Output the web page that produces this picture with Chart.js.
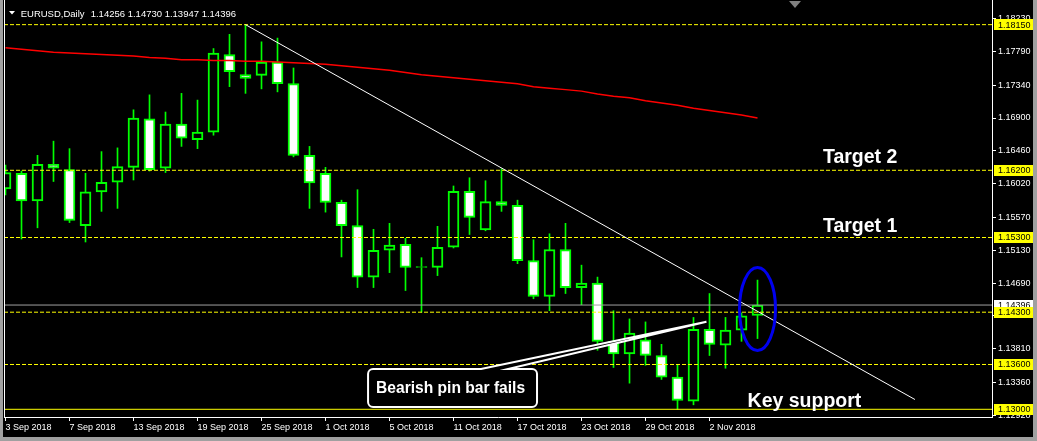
<!DOCTYPE html>
<html>
<head>
<meta charset="UTF-8">
<title>EURUSD Daily</title>
<script src="https://cdn.jsdelivr.net/npm/chart.js"></script>
<style>
    html, body { margin: 0; padding: 0; background: #000; overflow: hidden; }
    #chart { display: block; }
</style>
</head>
<body>
<canvas id="chart" width="1037" height="441"></canvas>
<script>
    // one bar per trading day, index 0 = 3 Sep 2018
    const opens  = [1.1595, 1.1616, 1.1579, 1.1628, 1.1621, 1.1546, 1.1591, 1.1604, 1.1624, 1.1689,
                    1.1623, 1.1682, 1.1661, 1.1671, 1.1775, 1.1748, 1.1747, 1.1765, 1.1736, 1.1640,
                    1.1616, 1.1577, 1.1546, 1.1477, 1.1513, 1.1521, 1.1490, 1.1490, 1.1517, 1.1592,
                    1.1540, 1.1578, 1.1573, 1.1499, 1.1451, 1.1514, 1.1463, 1.1469, 1.1391, 1.1374,
                    1.1393, 1.1372, 1.1343, 1.1311, 1.1407, 1.1386, 1.1406, 1.14256];
    const highs  = [1.1627, 1.1619, 1.1640, 1.1659, 1.1649, 1.1616, 1.1645, 1.1650, 1.1701, 1.1721,
                    1.1698, 1.1723, 1.1714, 1.1783, 1.1802, 1.1815, 1.1792, 1.1797, 1.1757, 1.1652,
                    1.1624, 1.1580, 1.1594, 1.1541, 1.1549, 1.1529, 1.1503, 1.1545, 1.1599, 1.1610,
                    1.1606, 1.1622, 1.1580, 1.1527, 1.1535, 1.1549, 1.1493, 1.1477, 1.1432, 1.1421,
                    1.1417, 1.1387, 1.1359, 1.1423, 1.1455, 1.1423, 1.1429, 1.14730];
    const lows   = [1.1587, 1.1528, 1.1543, 1.1605, 1.1550, 1.1524, 1.1565, 1.1569, 1.1607, 1.1619,
                    1.1617, 1.1652, 1.1649, 1.1667, 1.1732, 1.1723, 1.1729, 1.1725, 1.1638, 1.1569,
                    1.1564, 1.1504, 1.1463, 1.1463, 1.1483, 1.1459, 1.1430, 1.1479, 1.1516, 1.1534,
                    1.1539, 1.1565, 1.1495, 1.1448, 1.1432, 1.1455, 1.1440, 1.1379, 1.1356, 1.1335,
                    1.1359, 1.1340, 1.1300, 1.1306, 1.1372, 1.1355, 1.1391, 1.13947];
    const closes = [1.1617, 1.1579, 1.1628, 1.1623, 1.1553, 1.1591, 1.1604, 1.1625, 1.1690, 1.1621,
                    1.1682, 1.1663, 1.1671, 1.1777, 1.1752, 1.1743, 1.1765, 1.1736, 1.1640, 1.1603,
                    1.1577, 1.1546, 1.1477, 1.1513, 1.1520, 1.1490, 1.1491, 1.1517, 1.1592, 1.1557,
                    1.1578, 1.1573, 1.1499, 1.1451, 1.1514, 1.1463, 1.1469, 1.1391, 1.1374, 1.1402,
                    1.1372, 1.1343, 1.1312, 1.1407, 1.1387, 1.1406, 1.1425, 1.14396];

    // red moving average, one value per bar
    const maValues = [1.1784, 1.1782, 1.1780, 1.1778, 1.1777, 1.1776, 1.1775, 1.1774, 1.1773, 1.1771,
                      1.1770, 1.1768, 1.1768, 1.1767, 1.1767, 1.1766, 1.1766, 1.1765, 1.1764, 1.1763,
                      1.1762, 1.1760, 1.1758, 1.1756, 1.1754, 1.1751, 1.1748, 1.1746, 1.1744, 1.1742,
                      1.1740, 1.1738, 1.1736, 1.1732, 1.1730, 1.1728, 1.1726, 1.1722, 1.1719, 1.1717,
                      1.1713, 1.1710, 1.1707, 1.1703, 1.1700, 1.1697, 1.1694, 1.1690];

    const dateTicks  = [0, 4, 8, 12, 16, 20, 24, 28, 32, 36, 40, 44];
    const dateLabels = ['3 Sep 2018', '7 Sep 2018', '13 Sep 2018', '19 Sep 2018', '25 Sep 2018', '1 Oct 2018',
                        '5 Oct 2018', '11 Oct 2018', '17 Oct 2018', '23 Oct 2018', '29 Oct 2018', '2 Nov 2018'];

    const priceTicks = [1.18230, 1.17790, 1.17340, 1.16900, 1.16460, 1.16020, 1.15570,
                        1.15130, 1.14690, 1.14250, 1.13810, 1.13360, 1.12920];

    const dashedLevels = [1.18150, 1.16200, 1.15300, 1.14300, 1.13600];
    const keySupport = 1.13000;
    const bidPrice = 1.14396;

    // trendline from the 20 Sep high
    const trendX = [15, 56.84];
    const trendY = [1.18150, 1.13131];

    // annotations, in bar index / price units
    const targetLabels = [
        { text: 'Target 2', x: 51.09, y: 1.16304 },
        { text: 'Target 1', x: 51.09, y: 1.15378 },
        { text: 'Key support', x: 46.38, y: 1.13031 }
    ];
    const calloutText = 'Bearish pin bar fails';
    const calloutBox = { left: 22.66, right: 33.22, top: 1.13540, bottom: 1.13031, textX: 23.16, textY: 1.13214 };
    const calloutPointer = { base1: 29.72, base2: 31.41, tipX: 43.81, tipY: 1.14173 };
    const circled = { x: 47, y: 1.14343 };

    const title = 'EURUSD,Daily';
    const titleValues = '1.14256 1.14730 1.13947 1.14396';

    const GREEN = '#00ff00';
    const YELLOW = '#ffff00';
    const X_MIN = -0.09375, X_MAX = 61.656;
    const Y_MIN = 1.128969, Y_MAX = 1.184800;

    function flatLine(price) {
        return [{ x: X_MIN, y: price }, { x: X_MAX, y: price }];
    }

    const datasets = [];

    datasets.push({
        type: 'line',
        data: trendX.map((x, i) => ({ x: x, y: trendY[i] })),
        borderColor: '#ffffff',
        borderWidth: 1,
        pointRadius: 0,
        order: 0
    });

    dashedLevels.forEach(p => {
        datasets.push({
            type: 'line',
            data: flatLine(p),
            borderColor: YELLOW,
            borderWidth: 1,
            borderDash: [4, 2],
            pointRadius: 0,
            order: 1
        });
    });

    datasets.push({
        type: 'line',
        data: flatLine(keySupport),
        borderColor: YELLOW,
        borderWidth: 1,
        pointRadius: 0,
        order: 1
    });

    datasets.push({
        type: 'line',
        data: flatLine(bidPrice),
        borderColor: '#a0a0a0',
        borderWidth: 1,
        pointRadius: 0,
        order: 2
    });

    datasets.push({
        type: 'line',
        data: maValues.map((v, i) => ({ x: i, y: v })),
        borderColor: '#ff0000',
        borderWidth: 1.5,
        pointRadius: 0,
        order: 3
    });

    // candle bodies: bull = hollow (black), bear = white
    datasets.push({
        type: 'bar',
        data: opens.map((o, i) => ({ x: i, y: [o, closes[i]] })),
        backgroundColor: opens.map((o, i) => closes[i] >= o ? '#000000' : '#ffffff'),
        borderColor: GREEN,
        borderWidth: 2,
        borderSkipped: false,
        barThickness: 11,
        grouped: false,
        order: 5
    });

    // wicks
    datasets.push({
        type: 'bar',
        data: lows.map((l, i) => ({ x: i, y: [l, highs[i]] })),
        backgroundColor: GREEN,
        borderWidth: 0,
        barThickness: 1,
        grouped: false,
        order: 6
    });

    const tickFont = { family: 'Liberation Sans, Arial, sans-serif', size: 9 };

    const decor = {
        id: 'decor',
        beforeDraw(chart) {
            const ctx = chart.ctx;
            ctx.save();
            ctx.fillStyle = '#000';
            ctx.fillRect(0, 0, chart.width, chart.height);
            ctx.restore();
        },
        afterDatasetsDraw(chart) {
            const ctx = chart.ctx;
            const xs = chart.scales.x, ys = chart.scales.y;
            const area = chart.chartArea;
            ctx.save();
            ctx.beginPath();
            ctx.rect(area.left, area.top, area.right - area.left, area.bottom - area.top);
            ctx.clip();

            // blue circle round the last bar
            ctx.strokeStyle = '#0000ee';
            ctx.lineWidth = 3;
            ctx.beginPath();
            ctx.ellipse(xs.getPixelForValue(circled.x), ys.getPixelForValue(circled.y), 18, 41.5, 0, 0, Math.PI * 2);
            ctx.stroke();

            // callout with pointer
            const L = xs.getPixelForValue(calloutBox.left), R = xs.getPixelForValue(calloutBox.right);
            const T = ys.getPixelForValue(calloutBox.top), B = ys.getPixelForValue(calloutBox.bottom);
            const b1 = xs.getPixelForValue(calloutPointer.base1), b2 = xs.getPixelForValue(calloutPointer.base2);
            const tx = xs.getPixelForValue(calloutPointer.tipX), ty = ys.getPixelForValue(calloutPointer.tipY);
            const r = 5;
            ctx.beginPath();
            ctx.moveTo(L + r, T);
            ctx.lineTo(b1, T);
            ctx.lineTo(tx, ty);
            ctx.lineTo(b2, T);
            ctx.lineTo(R - r, T);
            ctx.arcTo(R, T, R, T + r, r);
            ctx.lineTo(R, B - r);
            ctx.arcTo(R, B, R - r, B, r);
            ctx.lineTo(L + r, B);
            ctx.arcTo(L, B, L, B - r, r);
            ctx.lineTo(L, T + r);
            ctx.arcTo(L, T, L + r, T, r);
            ctx.closePath();
            ctx.fillStyle = '#000';
            ctx.fill();
            ctx.strokeStyle = '#ffffff';
            ctx.lineWidth = 2;
            ctx.stroke();

            ctx.fillStyle = '#ffffff';
            ctx.textBaseline = 'alphabetic';
            ctx.textAlign = 'left';
            ctx.font = 'bold 15.6px "Liberation Sans", Arial, sans-serif';
            ctx.fillText(calloutText, xs.getPixelForValue(calloutBox.textX), ys.getPixelForValue(calloutBox.textY));

            ctx.font = 'bold 19.5px "Liberation Sans", Arial, sans-serif';
            targetLabels.forEach(t => {
                ctx.fillText(t.text, xs.getPixelForValue(t.x), ys.getPixelForValue(t.y));
            });

            // chart title
            ctx.font = '9.5px "Liberation Sans", Arial, sans-serif';
            ctx.fillText(title, 20.7, 16.5);
            ctx.fillText(titleValues, 90.7, 16.5);
            ctx.beginPath();
            ctx.moveTo(9, 11);
            ctx.lineTo(15, 11);
            ctx.lineTo(12, 14.5);
            ctx.closePath();
            ctx.fill();
            ctx.restore();
        },
        afterDraw(chart) {
            const ctx = chart.ctx;
            const ys = chart.scales.y;
            ctx.save();
            ctx.font = '9px "Liberation Sans", Arial, sans-serif';
            ctx.textBaseline = 'middle';
            ctx.textAlign = 'left';

            const tag = (price, bg) => {
                const y = ys.getPixelForValue(price);
                ctx.fillStyle = bg;
                ctx.fillRect(994, Math.round(y - 5.5), 41, 11);
                ctx.fillStyle = '#000';
                ctx.fillText(price.toFixed(5), 998, y + 0.5);
            };
            tag(bidPrice, '#ffffff');
            dashedLevels.concat([keySupport]).forEach(p => tag(p, YELLOW));

            // window frame
            ctx.fillStyle = '#a0a0a0';
            ctx.fillRect(0, 0, 3, chart.height);
            ctx.fillRect(1033, 0, 4, chart.height);
            ctx.fillRect(0, 437, chart.width, 4);
            ctx.fillStyle = '#ffffff';
            ctx.fillRect(4, 0, 1, 417);

            // chart shift marker
            ctx.fillStyle = '#808080';
            ctx.beginPath();
            ctx.moveTo(789, 1);
            ctx.lineTo(801, 1);
            ctx.lineTo(795, 8);
            ctx.closePath();
            ctx.fill();
            ctx.restore();
        }
    };

    new Chart(document.getElementById('chart'), {
        type: 'bar',
        data: { datasets: datasets },
        plugins: [decor],
        options: {
            responsive: false,
            devicePixelRatio: 1,
            animation: false,
            layout: { padding: { left: 4, top: 0, right: 0, bottom: 0 } },
            plugins: {
                legend: { display: false },
                tooltip: { enabled: false }
            },
            scales: {
                x: {
                    type: 'linear',
                    position: 'bottom',
                    min: X_MIN,
                    max: X_MAX,
                    offset: false,
                    afterBuildTicks: scale => { scale.ticks = dateTicks.map(v => ({ value: v })); },
                    afterFit: scale => {
                        scale.height = 24;
                        scale.paddingLeft = 0;
                        scale.paddingRight = 0;
                    },
                    grid: { display: true, drawOnChartArea: false, drawTicks: true, tickLength: 4, color: '#ffffff', offset: false },
                    border: { display: true, color: '#ffffff', width: 1 },
                    ticks: {
                        autoSkip: false,
                        maxRotation: 0,
                        align: 'start',
                        padding: 1,
                        color: '#ffffff',
                        font: tickFont,
                        callback: (v, i) => dateLabels[i]
                    }
                },
                y: {
                    type: 'linear',
                    position: 'right',
                    min: Y_MIN,
                    max: Y_MAX,
                    afterBuildTicks: scale => { scale.ticks = priceTicks.map(v => ({ value: v })); },
                    afterFit: scale => {
                        scale.width = 45;
                        scale.paddingTop = 0;
                        scale.paddingBottom = 0;
                    },
                    grid: { display: true, drawOnChartArea: false, drawTicks: true, tickLength: 4, color: '#ffffff' },
                    border: { display: true, color: '#ffffff', width: 1 },
                    ticks: {
                        padding: 2,
                        color: '#ffffff',
                        font: tickFont,
                        callback: v => v.toFixed(5)
                    }
                }
            }
        }
    });
</script>
</body>
</html>
